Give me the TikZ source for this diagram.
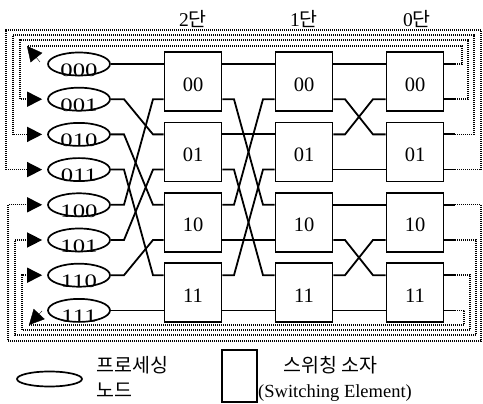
\documentclass[tikz,border=0pt]{standalone}
\usepackage{fontspec}
\setmainfont{Liberation Serif}
\newfontfamily\kr{Noto Sans CJK KR}
\usetikzlibrary{arrows.meta,shapes.geometric,calc}
\begin{document}
\begin{tikzpicture}[x=1pt,y=-1pt,
  pe/.style={ellipse, draw, line width=1.7pt, minimum width=62pt, minimum height=23pt, inner sep=0pt},
  pelab/.style={font=\fontsize{19}{19}\selectfont, inner sep=0pt},
  sw/.style={draw, line width=1.9pt, minimum width=57pt, minimum height=59pt, inner sep=0pt,
    font=\fontsize{20.5}{20.5}\selectfont, text height=19pt, text depth=0pt},
  stl/.style={font=\fontsize{19.5}{19.5}\selectfont, inner sep=0pt},
  wire/.style={line width=1.8pt},
  fb/.style={line width=1.4pt, dash pattern=on 1pt off 1pt},
  tri/.style={-{Triangle[length=15pt,width=15pt]}},
  lgk/.style={font=\kr\fontsize{19.5}{19.5}\selectfont, inner sep=0pt, anchor=west},
]
\useasboundingbox (0,0) rectangle (483,404);

% processing nodes
\foreach \i/\t in {0/000,1/001,2/010,3/011,4/100,5/101,6/110,7/111}{
  \node[pe] (p\i) at (79,{64+35.2*\i}) {};
  \node[pelab] (t\i) at ([yshift=-6pt]p\i.center) {\scalebox{1.3}[1]{\t}};
}

% switching elements
\foreach \k/\t in {0/00,1/01,2/10,3/11}{
  \node[sw] (a\k) at (193,{81.6+70.4*\k}) {\t};
  \node[sw] (b\k) at (304,{81.6+70.4*\k}) {\t};
  \node[sw] (c\k) at (415,{81.6+70.4*\k}) {\t};
}

% stage labels
\node[stl] (l2) at (193,19) {2{\kr 단}};
\node[stl] (l1) at (304,19) {1{\kr 단}};
\node[stl] (l0) at (417,19) {0{\kr 단}};

% helper columns
\coordinate (d1) at (124,0); \coordinate (e1) at (153,0);
\coordinate (d2) at (234,0); \coordinate (e2) at (263,0);
\coordinate (d3) at (345,0); \coordinate (e3) at (373,0);
\coordinate (st) at (455,0);

% PE -> stage 2
\foreach \i/\j in {0/0,1/2,2/4,3/6,4/1,5/3,6/5,7/7}{
  \pgfmathtruncatemacro\kb{\j/2}
  \draw[wire] (p\i.east) -- (d1 |- p\i) -- (e1 |- p\j) -- (a\kb.west |- p\j);
}
% stage 2 -> stage 1
\foreach \i/\j in {0/0,1/4,2/2,3/6,4/1,5/5,6/3,7/7}{
  \pgfmathtruncatemacro\ka{\i/2}
  \pgfmathtruncatemacro\kb{\j/2}
  \draw[wire] (a\ka.east |- p\i) -- (d2 |- p\i) -- (e2 |- p\j) -- (b\kb.west |- p\j);
}
% stage 1 -> stage 0
\foreach \i/\j in {0/0,1/2,2/1,3/3,4/4,5/6,6/5,7/7}{
  \pgfmathtruncatemacro\ka{\i/2}
  \pgfmathtruncatemacro\kb{\j/2}
  \draw[wire] (b\ka.east |- p\i) -- (d3 |- p\i) -- (e3 |- p\j) -- (c\kb.west |- p\j);
}
% output stubs
\foreach \j in {0,...,7}{
  \pgfmathtruncatemacro\kc{\j/2}
  \draw[wire] (c\kc.east |- p\j) -- (st |- p\j);
}

% feedback lines (into PEs)
\foreach \j/\xl/\xr/\yt in {1/20/468/40, 2/13/474/35, 3/6/481/30, 4/8/481/341, 5/15/476/335, 6/22/470/330}{
  \coordinate (fr\j) at (\xr,\yt);
  \coordinate (fl\j) at (\xl,\yt);
  \draw[fb, tri, shorten >=5pt] (st |- p\j) -- (fr\j |- p\j) -- (fr\j) -- (fl\j) -- (fl\j |- p\j) -- (p\j.west);
}
% feedback lines for 000 and 111 (outward arrows)
\coordinate (fr0) at (462,46); \coordinate (k0) at (27,46); \coordinate (q0) at (40,62);
\draw[fb] (st |- p0) -- (fr0 |- p0) -- (fr0) -- (k0);
\draw[tri] (q0) -- (k0);
\coordinate (fr7) at (464,325); \coordinate (k7) at (29,325); \coordinate (q7) at (42,311);
\draw[fb] (st |- p7) -- (fr7 |- p7) -- (fr7) -- (k7);
\draw[tri] (q7) -- (k7);

% legend
\node[pe, minimum width=65pt, minimum height=15pt] (lgE) at (49.5,379) {};
\node[lgk] (lgE1) at (96,365) {프로세싱};
\node[lgk] (lgE2) at (96,390) {노드};
\node[draw, line width=1.9pt, minimum width=35pt, minimum height=52pt, inner sep=0pt] (lgB) at (239.5,376) {};
\node[lgk] (lgB1) at (283,365) {스위칭 소자};
\node[font=\fontsize{18.5}{18.5}\selectfont, inner sep=0pt, anchor=west] (lgB2) at (258,393) {(Switching Element)};
\end{tikzpicture}
\end{document}
